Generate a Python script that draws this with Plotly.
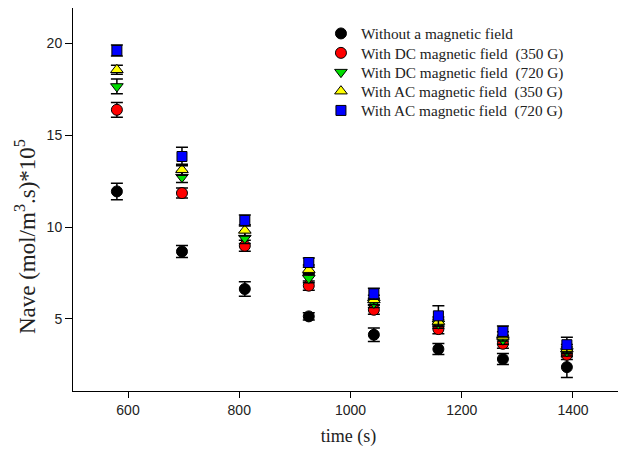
import plotly.graph_objects as go

time_s = [580, 697, 810, 925, 1042, 1158, 1274, 1389]

no_field = [11.94, 8.67, 6.63, 5.14, 4.14, 3.36, 2.82, 2.38]
no_field_err = [0.45, 0.33, 0.40, 0.20, 0.37, 0.30, 0.30, 0.57]

dc_350 = [16.38, 11.85, 8.98, 6.81, 5.50, 4.45, 3.65, 3.05]
dc_350_err = [0.40, 0.27, 0.30, 0.25, 0.25, 0.25, 0.25, 0.25]

dc_720 = [17.65, 12.72, 9.40, 7.22, 5.87, 4.74, 3.87, 3.23]
dc_720_err = [0.40, 0.30, 0.30, 0.25, 0.25, 0.25, 0.25, 0.25]

ac_350 = [18.56, 13.12, 9.82, 7.68, 6.04, 4.86, 4.05, 3.36]
ac_350_err = [0.25, 0.30, 0.30, 0.25, 0.25, 0.25, 0.25, 0.25]

ac_720 = [19.61, 13.84, 10.36, 8.07, 6.37, 5.17, 4.32, 3.60]
ac_720_err = [0.30, 0.50, 0.30, 0.25, 0.30, 0.55, 0.30, 0.40]

series_names = [
    "Without a magnetic field",
    "With DC magnetic field  (350 G)",
    "With DC magnetic field  (720 G)",
    "With AC magnetic field  (350 G)",
    "With AC magnetic field  (720 G)",
]
series_vals = [no_field, dc_350, dc_720, ac_350, ac_720]
series_errs = [no_field_err, dc_350_err, dc_720_err, ac_350_err, ac_720_err]
symbols = ["circle", "circle", "triangle-down", "triangle-up", "square"]
colors = ["black", "red", "#00dd00", "#ffff00", "#0000ff"]
sizes = [11, 11, 11, 11, 10]

legend_ids = ["legend", "legend2", "legend3", "legend4", "legend5"]
legend_y = [0.9765, 0.9258, 0.8755, 0.8258, 0.7755]

fig = go.Figure()
for i in range(5):
    fig.add_trace(go.Scatter(
        x=time_s, y=series_vals[i], name=series_names[i], mode="markers",
        legend=legend_ids[i],
        marker=dict(symbol=symbols[i], color=colors[i], size=sizes[i],
                    line=dict(color="black", width=1)),
        error_y=dict(type="data", array=series_errs[i], visible=True, color="black",
                     thickness=1.5, width=6),
    ))

legend_common = dict(x=0.45, xanchor="left", yanchor="top",
                     bgcolor="rgba(0,0,0,0)",
                     font=dict(family="Liberation Serif", size=15.3, color="#222"),
                     itemwidth=30)
layout_legends = {}
for lid, ly in zip(legend_ids, legend_y):
    layout_legends[lid] = dict(legend_common, y=ly)

fig.update_layout(
    width=618, height=453,
    margin=dict(l=65, r=2, t=0, b=70),
    paper_bgcolor="white", plot_bgcolor="white",
    showlegend=True,
    font=dict(family="Liberation Sans", color="black"),
    **layout_legends,
)
fig.update_xaxes(
    range=[501.1, 1491.7], tickvals=[600, 800, 1000, 1200, 1400],
    ticks="outside", ticklen=6, tickcolor="black", showline=True,
    linecolor="black", linewidth=1, mirror=True, showgrid=False, zeroline=False,
    tickfont=dict(family="Liberation Sans", size=14, color="#222"),
    title=dict(text="time (s)", font=dict(family="Liberation Serif", size=18, color="#222"), standoff=12),
)
fig.update_yaxes(
    range=[1.08, 21.92], tickvals=[5, 10, 15, 20],
    ticks="outside", ticklen=7, tickcolor="black", showline=True,
    linecolor="black", linewidth=1, mirror=True, showgrid=False, zeroline=False,
    tickfont=dict(family="Liberation Sans", size=14, color="#222"),
)
fig.add_annotation(
    text="Nave (mol/m<sup>3</sup>.s)*10<sup>5</sup>",
    xref="paper", yref="paper", x=-0.087, y=0.402,
    xanchor="center", yanchor="middle", textangle=-90, showarrow=False,
    font=dict(family="Liberation Serif", size=23, color="#222"),
)

fig.write_html("out.html")
